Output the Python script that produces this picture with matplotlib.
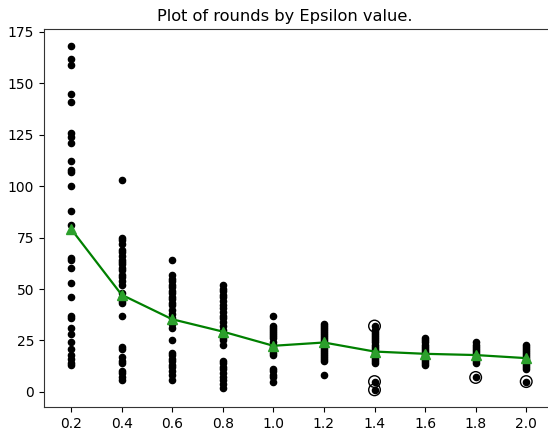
import numpy as np
import matplotlib
matplotlib.use("Agg")
import matplotlib.pyplot as plt

# epsilon values on the x axis
epsilons = [0.2, 0.4, 0.6, 0.8, 1.0, 1.2, 1.4, 1.6, 1.8, 2.0]

# rounds per run
rounds = {
    0.2: [168, 162, 159, 145, 141, 126, 124, 121, 112, 108, 107, 100, 88, 81,
          65, 64, 60, 53, 46, 37, 36, 31, 28, 24, 21, 18, 16, 14, 13],
    0.4: [103, 75, 74, 72, 69, 68, 66, 64, 63, 62, 60, 59, 57, 56, 54, 52, 48,
          46, 44, 43, 37, 22, 21, 17, 15, 14, 10, 9, 7, 6],
    0.6: [64, 57, 55, 54, 52, 51, 49, 48, 46, 45, 43, 42, 40, 38, 36, 34, 33,
          31, 25, 19, 18, 16, 15, 13, 12, 10, 8, 6],
    0.8: [52, 50, 49, 47, 46, 44, 42, 41, 39, 37, 36, 34, 32, 30, 28, 26, 25,
          23, 15, 14, 12, 11, 9, 7, 6, 4, 2],
    1.0: [37, 32, 31, 30, 29, 28, 27, 26, 24, 23, 22, 21, 19, 18, 11, 10, 8, 7, 5],
    1.2: [33, 32, 31, 30, 29, 28, 27, 26, 25, 24, 23, 22, 21, 20, 19, 18, 17,
          16, 15, 8],
    1.4: [32, 30, 29, 28, 27, 26, 25, 24, 23, 22, 21, 20, 19, 18, 17, 16, 15,
          14, 5, 1],
    1.6: [26, 25, 24, 23, 22, 21, 20, 19, 18, 17, 16, 15, 14, 13],
    1.8: [24, 23, 22, 21, 20, 19, 18, 17, 16, 15, 14, 7],
    2.0: [23, 22, 21, 20, 19, 18, 17, 16, 15, 14, 13, 12, 11, 5],
}

# mean rounds per epsilon (green line)
mean_rounds = [79.2, 47.2, 35.3, 29.3, 22.4, 24.0, 19.6, 18.5, 17.9, 16.4]

# circled outliers
outlier_eps = [1.4, 1.4, 1.4, 1.8, 2.0]
outlier_vals = [32, 5, 1, 7, 5]

fig = plt.figure(figsize=(5.48, 4.32), dpi=100)
ax = fig.add_axes([0.0803, 0.0579, 0.9215, 0.875])

xs = np.concatenate([[e] * len(rounds[e]) for e in epsilons])
ys = np.concatenate([rounds[e] for e in epsilons])

ax.scatter(outlier_eps, outlier_vals, s=70, facecolors="none",
           edgecolors="black", linewidths=1.0, zorder=2)
ax.scatter(xs, ys, s=20, color="black", zorder=3)
ax.plot(epsilons, mean_rounds, color="green", linewidth=1.6, zorder=4)
ax.plot(epsilons, mean_rounds, linestyle="none", marker="^", markersize=7,
        color="#2ca02c", zorder=5)

ax.set_xlim(0.093, 2.09)
ax.set_ylim(-7.35, 176.4)
ax.set_xticks(epsilons)
ax.set_xticklabels([f"{e:.1f}" for e in epsilons])
ax.set_yticks([0, 25, 50, 75, 100, 125, 150, 175])

# title sits centred on the original (uncropped) figure, not the axes
fig.text(285 / 548, 1 - 21 / 432, "Plot of rounds by Epsilon value.",
         ha="center", va="baseline", fontsize=11.7)

for sp in ax.spines.values():
    sp.set_color("#333333")

fig.savefig("out.png", dpi=100)
